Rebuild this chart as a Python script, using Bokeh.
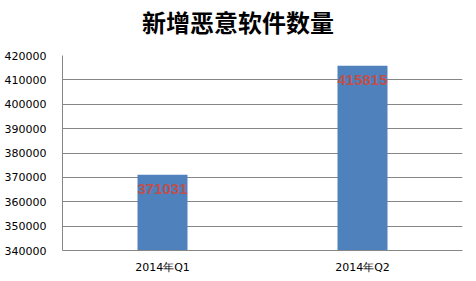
from bokeh.plotting import figure
from bokeh.models import FactorRange, Range1d, ColumnDataSource, Div, SingleIntervalTicker, NumeralTickFormatter
from bokeh.layouts import column
from bokeh.core.properties import value
from bokeh.embed import file_html
from bokeh.resources import INLINE

categories = ["2014年Q1", "2014年Q2"]
counts = [371031, 415815]
labels = [str(v) for v in counts]
title_text = "新增恶意软件数量"

src = ColumnDataSource(dict(x=categories, y=counts, label=labels))

title = Div(text=title_text, width=476, height=44,
            styles={"font-family": "'Noto Sans CJK SC'", "font-size": "24px", "font-weight": "bold",
                    "text-align": "center", "line-height": "44px", "color": "#000000",
                    "width": "476px", "margin": "0", "padding": "0"})

p = figure(width=476, height=237, output_backend="svg", toolbar_location=None,
           x_range=FactorRange(*categories, range_padding=0),
           y_range=Range1d(340000, 420000),
           min_border_left=62, min_border_right=14, min_border_top=11, min_border_bottom=31)

p.vbar(x="x", top="y", bottom=340000, width=0.25, source=src, color="#4F81BD", line_color=None)
p.text(x="x", y="y", text="label", source=src, text_align="center", text_baseline="top",
       y_offset=9, text_color="#C0504D", text_font=value("Liberation Sans"),
       text_font_size="15px", text_font_style="bold")

p.yaxis.ticker = SingleIntervalTicker(interval=10000)
p.yaxis.formatter = NumeralTickFormatter(format="0")
p.ygrid.ticker = SingleIntervalTicker(interval=10000)
p.ygrid.grid_line_color = "#868686"
p.xgrid.grid_line_color = None
for ax in (p.xaxis[0], p.yaxis[0]):
    ax.axis_line_color = "#868686"
    ax.major_tick_line_color = None
    ax.minor_tick_line_color = None
    ax.major_tick_out = 0
    ax.major_tick_in = 0
    ax.minor_tick_out = 0
    ax.minor_tick_in = 0
    ax.major_label_text_font = "DejaVu Sans"
    ax.major_label_text_font_size = "11px"
    ax.major_label_text_color = "#000000"
p.yaxis.major_label_standoff = 16
p.xaxis.major_label_standoff = 10
p.outline_line_color = None
p.background_fill_color = "white"
p.border_fill_color = "white"

layout = column(title, p, spacing=0)
open("out.html", "w").write(file_html(layout, INLINE))
